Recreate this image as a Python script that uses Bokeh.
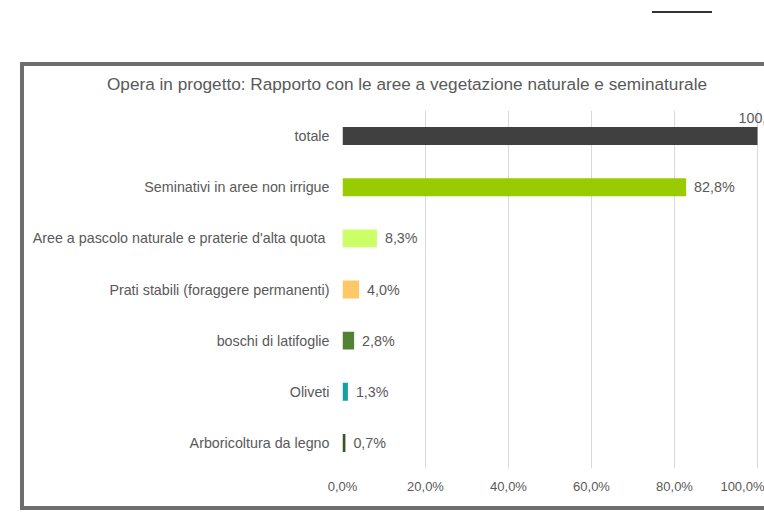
from bokeh.plotting import figure
from bokeh.models import ColumnDataSource, FactorRange, Range1d, FixedTicker, Div
from bokeh.layouts import column
from bokeh.core.properties import value
from bokeh.embed import file_html
from bokeh.resources import INLINE

# ---- data ----
title_text = "Opera in progetto: Rapporto con le aree a vegetazione naturale e seminaturale"
categories = [
    "totale",
    "Seminativi in aree non irrigue",
    "Aree a pascolo naturale  e praterie d'alta quota",
    "Prati stabili (foraggere permanenti)",
    "boschi di latifoglie",
    "Oliveti",
    "Arboricoltura da legno",
]
values = [100.0, 82.8, 8.3, 4.0, 2.8, 1.3, 0.7]
value_labels = ["100,0%", "82,8%", "8,3%", "4,0%", "2,8%", "1,3%", "0,7%"]
tick_values = [0, 20, 40, 60, 80, 100]
tick_labels = ["0,0%", "20,0%", "40,0%", "60,0%", "80,0%", "100,0%"]

bar_colors = ["#404040", "#99cc00", "#ccff66", "#fdc867", "#548235", "#17a0a0", "#375623"]

FONT = "Liberation Sans"
TXT = "#595959"
LBL = "14.3px"

W, H = 740, 396
left_b, right_b, top_b, bottom_b = 318, 0, 0, 38
frame_w = W - left_b - right_b
px_per_unit = 415 / 100.0
x_end = frame_w / px_per_unit

p = figure(width=W, height=H, output_backend="svg", toolbar_location=None,
           y_range=FactorRange(factors=list(reversed(categories)), range_padding=0),
           x_range=Range1d(0, x_end),
           min_border_left=left_b, min_border_right=right_b,
           min_border_top=top_b, min_border_bottom=bottom_b,
           background_fill_color="white", border_fill_color="white",
           outline_line_color=None, margin=0)

src = ColumnDataSource(dict(cat=categories, val=values, lab=value_labels, color=bar_colors))
p.hbar(y="cat", left=0, right="val", height=0.35, fill_color="color",
       line_color=None, source=src)

rest = ColumnDataSource(dict(cat=categories[1:], val=values[1:], lab=value_labels[1:]))
p.text(x="val", y="cat", text="lab", source=rest, x_offset=8,
       text_baseline="middle", text_align="left", text_font=value(FONT),
       text_font_size=LBL, text_color=TXT)
top_src = ColumnDataSource(dict(cat=categories[:1], val=values[:1], lab=value_labels[:1]))
p.text(x="val", y="cat", text="lab", source=top_src, x_offset=-19, y_offset=-18,
       text_baseline="middle", text_align="left", text_font=value(FONT),
       text_font_size=LBL, text_color=TXT)

# axes
p.xaxis.ticker = FixedTicker(ticks=tick_values)
p.xaxis.major_label_overrides = {t: l for t, l in zip(tick_values, tick_labels)}
p.xaxis.axis_line_color = None
p.xaxis.major_tick_line_color = None
p.xaxis.major_tick_out = 0
p.xaxis.major_tick_in = 0
p.xaxis.minor_tick_line_color = None
p.xaxis.major_label_standoff = 10
p.xaxis.major_label_text_font = FONT
p.xaxis.major_label_text_font_size = "13px"
p.xaxis.major_label_text_color = TXT

p.yaxis.axis_line_color = None
p.yaxis.major_tick_line_color = None
p.yaxis.major_tick_out = 0
p.yaxis.major_tick_in = 0
p.yaxis.minor_tick_line_color = None
p.yaxis.major_label_standoff = 13
p.yaxis.major_label_text_font = FONT
p.yaxis.major_label_text_font_size = LBL
p.yaxis.major_label_text_color = TXT

p.xgrid.ticker = FixedTicker(ticks=tick_values)
p.xgrid.grid_line_color = "#d9d9d9"
p.ygrid.grid_line_color = None

# chart title (inside the framed box, above the plot)
title_div = Div(text=title_text, width=W, height=44, margin=0,
                styles={"font-family": FONT, "font-size": "17.2px", "color": TXT,
                        "line-height": "36px", "white-space": "nowrap",
                        "text-indent": "83px", "background-color": "white"})

box = column(title_div, p, spacing=0, margin=(53, 0, 0, 24),
             styles={"outline": "4px solid #6e6e6e", "background-color": "white"})

# short dark mark above the chart
mark = Div(text="", width=60, height=2, margin=(11, 0, 0, 652),
           styles={"background-color": "#333333"})

layout = column(mark, box, spacing=0, margin=0)
open("out.html", "w").write(file_html(layout, INLINE))
